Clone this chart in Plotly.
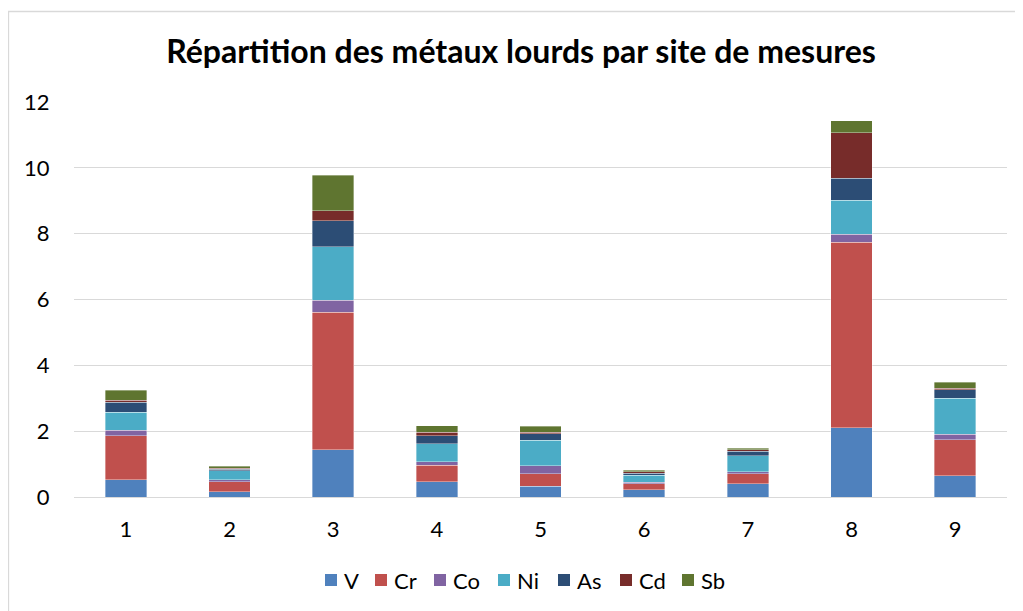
import plotly.graph_objects as go

sites = ["1", "2", "3", "4", "5", "6", "7", "8", "9"]

V = [0.53, 0.16, 1.44, 0.47, 0.33, 0.22, 0.40, 2.10, 0.65]
Cr = [1.33, 0.30, 4.17, 0.49, 0.38, 0.18, 0.30, 5.64, 1.09]
Co = [0.17, 0.06, 0.36, 0.11, 0.24, 0.05, 0.06, 0.24, 0.17]
Ni = [0.55, 0.28, 1.64, 0.55, 0.78, 0.21, 0.49, 1.03, 1.09]
As = [0.30, 0.05, 0.79, 0.24, 0.19, 0.06, 0.14, 0.67, 0.26]
Cd = [0.06, 0.03, 0.29, 0.11, 0.04, 0.04, 0.04, 1.39, 0.05]
Sb = [0.30, 0.06, 1.09, 0.19, 0.19, 0.06, 0.05, 0.36, 0.17]

series = [
    ("V", V, "#4F81BD"),
    ("Cr", Cr, "#C0504D"),
    ("Co", Co, "#8064A2"),
    ("Ni", Ni, "#4BACC6"),
    ("As", As, "#2C4D75"),
    ("Cd", Cd, "#772C2A"),
    ("Sb", Sb, "#5F7530"),
]

# page has an 8px body margin, so the figure is drawn 8px smaller
OFF = 8
W, H = 1023 - OFF, 611 - OFF
# plot area in page pixels
L, R, T, B = 74 - OFF, 1007 - OFF, 102 - OFF, 497 - OFF

# legend entry positions (left edge of each key square, page px)
legend_x = [325, 375, 434, 498, 558, 620, 682]
legend_y = 580

fig = go.Figure()
for name, vals, col in series:
    fig.add_trace(go.Bar(
        x=sites, y=vals, name=name, showlegend=False,
        marker=dict(color=col, line=dict(color="rgba(255,255,255,0.6)", width=0.6)),
    ))

def px_x(p):
    return (p - OFF - L) / (R - L)

def px_y(p):
    return (B - (p - OFF)) / (B - T)

# chart border (left and top edges visible)
fig.add_shape(type="rect", xref="paper", yref="paper",
              x0=px_x(8.5), x1=px_x(1040), y0=px_y(640), y1=px_y(11.5),
              line=dict(color="#D9D9D9", width=1.3), fillcolor="rgba(0,0,0,0)",
              layer="below")

# legend drawn by hand so the spacing matches the original
for (name, vals, col), lx in zip(series, legend_x):
    fig.add_shape(type="rect", xref="paper", yref="paper",
                  x0=px_x(lx), x1=px_x(lx + 12),
                  y0=px_y(legend_y + 6), y1=px_y(legend_y - 6),
                  fillcolor=col, line=dict(width=0))
    fig.add_annotation(xref="paper", yref="paper", x=px_x(lx + 17), y=px_y(legend_y),
                       xanchor="left", yanchor="middle", text=name, showarrow=False,
                       font=dict(size=22, color="#000000"))

fig.update_layout(
    width=W, height=H,
    margin=dict(l=L, r=W - R, t=T, b=H - B),
    barmode="stack",
    bargap=0.6,
    paper_bgcolor="white",
    plot_bgcolor="white",
    font=dict(family="Lato", size=22, color="#000000"),
    title=dict(text="<b>Répartition des métaux lourds par site de mesures</b>",
               x=px_x(521), xanchor="center", xref="paper",
               y=1 - (52 - OFF) / H, yanchor="middle",
               font=dict(family="Lato", size=32, color="#000000")),
    showlegend=False,
    xaxis=dict(showgrid=False, showline=True, linecolor="#D9D9D9", linewidth=1.3,
               ticks="outside", ticklen=12, tickcolor="rgba(0,0,0,0)",
               tickfont=dict(size=22)),
    yaxis=dict(range=[0, 12], dtick=2, showgrid=True, gridcolor="#D9D9D9", gridwidth=1.3,
               zeroline=False, ticks="outside", ticklen=19, tickcolor="rgba(0,0,0,0)",
               tickfont=dict(size=22)),
)

fig.write_html("out.html")
